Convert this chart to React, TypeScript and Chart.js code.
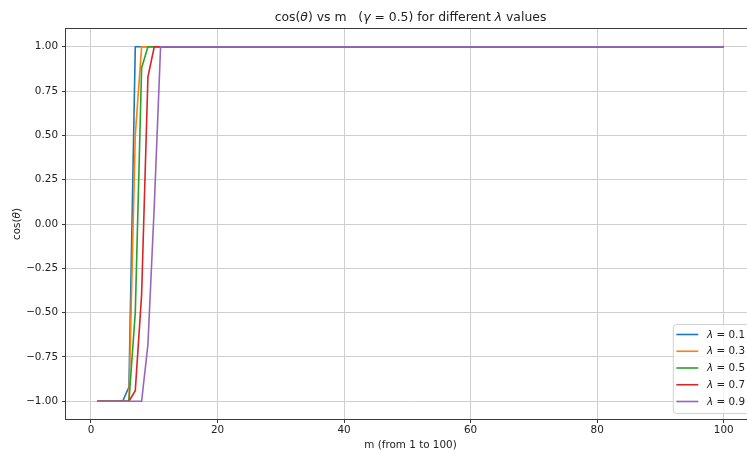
import React, { useEffect, useRef } from 'react';
import { Chart, registerables } from 'chart.js';

Chart.register(...registerables);

// m values (x axis categories)
const M = [
  1, 2, 3, 4, 5, 6, 7, 8, 9, 10,
  11, 12, 13, 14, 15, 16, 17, 18, 19, 20,
  21, 22, 23, 24, 25, 26, 27, 28, 29, 30,
  31, 32, 33, 34, 35, 36, 37, 38, 39, 40,
  41, 42, 43, 44, 45, 46, 47, 48, 49, 50,
  51, 52, 53, 54, 55, 56, 57, 58, 59, 60,
  61, 62, 63, 64, 65, 66, 67, 68, 69, 70,
  71, 72, 73, 74, 75, 76, 77, 78, 79, 80,
  81, 82, 83, 84, 85, 86, 87, 88, 89, 90,
  91, 92, 93, 94, 95, 96, 97, 98, 99, 100,
];

const LAMBDAS = ['0.1', '0.3', '0.5', '0.7', '0.9'];

// cos(theta) for lambda = 0.1
const COS_L01 = [
  -1, -1, -1, -1, -1, -0.92, 1, 1, 1, 1,
  1, 1, 1, 1, 1, 1, 1, 1, 1, 1,
  1, 1, 1, 1, 1, 1, 1, 1, 1, 1,
  1, 1, 1, 1, 1, 1, 1, 1, 1, 1,
  1, 1, 1, 1, 1, 1, 1, 1, 1, 1,
  1, 1, 1, 1, 1, 1, 1, 1, 1, 1,
  1, 1, 1, 1, 1, 1, 1, 1, 1, 1,
  1, 1, 1, 1, 1, 1, 1, 1, 1, 1,
  1, 1, 1, 1, 1, 1, 1, 1, 1, 1,
  1, 1, 1, 1, 1, 1, 1, 1, 1, 1,
];
// lambda = 0.3
const COS_L03 = [
  -1, -1, -1, -1, -1, -1, 0.5, 1, 1, 1,
  1, 1, 1, 1, 1, 1, 1, 1, 1, 1,
  1, 1, 1, 1, 1, 1, 1, 1, 1, 1,
  1, 1, 1, 1, 1, 1, 1, 1, 1, 1,
  1, 1, 1, 1, 1, 1, 1, 1, 1, 1,
  1, 1, 1, 1, 1, 1, 1, 1, 1, 1,
  1, 1, 1, 1, 1, 1, 1, 1, 1, 1,
  1, 1, 1, 1, 1, 1, 1, 1, 1, 1,
  1, 1, 1, 1, 1, 1, 1, 1, 1, 1,
  1, 1, 1, 1, 1, 1, 1, 1, 1, 1,
];
// lambda = 0.5
const COS_L05 = [
  -1, -1, -1, -1, -1, -1, -0.5, 0.88, 1, 1,
  1, 1, 1, 1, 1, 1, 1, 1, 1, 1,
  1, 1, 1, 1, 1, 1, 1, 1, 1, 1,
  1, 1, 1, 1, 1, 1, 1, 1, 1, 1,
  1, 1, 1, 1, 1, 1, 1, 1, 1, 1,
  1, 1, 1, 1, 1, 1, 1, 1, 1, 1,
  1, 1, 1, 1, 1, 1, 1, 1, 1, 1,
  1, 1, 1, 1, 1, 1, 1, 1, 1, 1,
  1, 1, 1, 1, 1, 1, 1, 1, 1, 1,
  1, 1, 1, 1, 1, 1, 1, 1, 1, 1,
];
// lambda = 0.7
const COS_L07 = [
  -1, -1, -1, -1, -1, -1, -0.94, -0.4, 0.83, 1,
  1, 1, 1, 1, 1, 1, 1, 1, 1, 1,
  1, 1, 1, 1, 1, 1, 1, 1, 1, 1,
  1, 1, 1, 1, 1, 1, 1, 1, 1, 1,
  1, 1, 1, 1, 1, 1, 1, 1, 1, 1,
  1, 1, 1, 1, 1, 1, 1, 1, 1, 1,
  1, 1, 1, 1, 1, 1, 1, 1, 1, 1,
  1, 1, 1, 1, 1, 1, 1, 1, 1, 1,
  1, 1, 1, 1, 1, 1, 1, 1, 1, 1,
  1, 1, 1, 1, 1, 1, 1, 1, 1, 1,
];
// lambda = 0.9
const COS_L09 = [
  -1, -1, -1, -1, -1, -1, -1, -1, -0.68, 0.1,
  1, 1, 1, 1, 1, 1, 1, 1, 1, 1,
  1, 1, 1, 1, 1, 1, 1, 1, 1, 1,
  1, 1, 1, 1, 1, 1, 1, 1, 1, 1,
  1, 1, 1, 1, 1, 1, 1, 1, 1, 1,
  1, 1, 1, 1, 1, 1, 1, 1, 1, 1,
  1, 1, 1, 1, 1, 1, 1, 1, 1, 1,
  1, 1, 1, 1, 1, 1, 1, 1, 1, 1,
  1, 1, 1, 1, 1, 1, 1, 1, 1, 1,
  1, 1, 1, 1, 1, 1, 1, 1, 1, 1,
];

const SERIES = [COS_L01, COS_L03, COS_L05, COS_L07, COS_L09];
const COLORS = ['#1f77b4', '#ff7f0e', '#2ca02c', '#d62728', '#9467bd'];

const X_TICKS = [0, 20, 40, 60, 80, 100];
const Y_TICKS = [-1, -0.75, -0.5, -0.25, 0, 0.25, 0.5, 0.75, 1];

type Part = [string, boolean];
const TITLE_PARTS: Part[] = [
  ['cos(', false], ['θ', true], [') vs m   (', false], ['γ', true],
  [' = 0.5) for different ', false], ['λ', true], [' values', false],
];
const X_LABEL = 'm (from 1 to 100)';
const Y_LABEL_PARTS: Part[] = [['cos(', false], ['θ', true], [')', false]];

const FONT = '"DejaVu Sans", sans-serif';
const TEXT = '#222222';
const SMALL = 10.4;
const TITLE_SIZE = 12.4;

function drawParts(ctx: CanvasRenderingContext2D, parts: Part[], x: number, y: number, size: number, center: boolean) {
  const fontOf = (it: boolean) => `${it ? 'italic ' : ''}${size}px ${FONT}`;
  const widths = parts.map(([t, it]) => { ctx.font = fontOf(it); return ctx.measureText(t).width; });
  const total = widths.reduce((s, w) => s + w, 0);
  let cx = center ? x - total / 2 : x;
  ctx.textAlign = 'left';
  parts.forEach(([t, it], i) => { ctx.font = fontOf(it); ctx.fillText(t, cx, y); cx += widths[i]; });
  return total;
}

function measureParts(ctx: CanvasRenderingContext2D, parts: Part[], size: number) {
  let total = 0;
  parts.forEach(([t, it]) => { ctx.font = `${it ? 'italic ' : ''}${size}px ${FONT}`; total += ctx.measureText(t).width; });
  return total;
}

const decor = {
  id: 'decor',
  afterDatasetsDraw(chart: any) {
    const { ctx, chartArea: a } = chart;
    ctx.save();
    // spines
    ctx.strokeStyle = '#3a3a3a';
    ctx.lineWidth = 1;
    ctx.strokeRect(Math.round(a.left) - 0.5, Math.round(a.top) - 0.5,
      Math.round(a.right - a.left) + 1, Math.round(a.bottom - a.top) + 1);

    // legend (lower right)
    const items = chart.data.datasets.map((ds: any, i: number) => ({
      parts: [['λ', true], [' = ' + LAMBDAS[i], false]] as Part[],
      color: ds.borderColor,
    }));
    const maxW = Math.max(...items.map((it: any) => measureParts(ctx, it.parts, SMALL)));
    const padL = 3.5, handle = 22, gap = 8.7, padR = 4;
    const boxRight = a.right - 6;
    const boxBottom = a.bottom - 6;
    const boxW = padL + handle + gap + maxW + padR;
    const boxH = 89;
    const boxLeft = boxRight - boxW;
    const boxTop = boxBottom - boxH;
    ctx.beginPath();
    if ((ctx as any).roundRect) (ctx as any).roundRect(boxLeft + 0.5, boxTop + 0.5, boxW, boxH, 3);
    else ctx.rect(boxLeft + 0.5, boxTop + 0.5, boxW, boxH);
    ctx.fillStyle = 'rgba(255,255,255,0.8)';
    ctx.fill();
    ctx.strokeStyle = 'rgba(204,204,204,0.9)';
    ctx.stroke();
    ctx.textBaseline = 'middle';
    ctx.fillStyle = TEXT;
    items.forEach((it: any, i: number) => {
      const cy = boxTop + 10.5 + i * 16.75;
      ctx.strokeStyle = it.color;
      ctx.lineWidth = 1.6;
      ctx.beginPath();
      ctx.moveTo(boxLeft + padL, cy);
      ctx.lineTo(boxLeft + padL + handle, cy);
      ctx.stroke();
      ctx.fillStyle = TEXT;
      drawParts(ctx, it.parts, boxLeft + padL + handle + gap, cy + 0.5, SMALL, false);
    });
    ctx.restore();
  },
  afterDraw(chart: any) {
    const { ctx, chartArea: a } = chart;
    ctx.save();
    ctx.fillStyle = TEXT;
    ctx.textBaseline = 'alphabetic';
    const cx = (a.left + a.right) / 2;
    drawParts(ctx, TITLE_PARTS, cx, 21, TITLE_SIZE, true);
    ctx.font = `${SMALL}px ${FONT}`;
    ctx.textAlign = 'center';
    ctx.fillText(X_LABEL, cx, 448);
    ctx.translate(20, (a.top + a.bottom) / 2);
    ctx.rotate(-Math.PI / 2);
    drawParts(ctx, Y_LABEL_PARTS, 0, 0, SMALL, true);
    ctx.restore();
  },
};

export default function App() {
  const ref = useRef<HTMLCanvasElement | null>(null);
  useEffect(() => {
    if (!ref.current) return;
    const tickFont = { family: FONT, size: SMALL };
    const chart = new Chart(ref.current, {
      type: 'line',
      data: {
        labels: M,
        datasets: SERIES.map((s, i) => ({
          label: `λ = ${LAMBDAS[i]}`,
          data: s,
          borderColor: COLORS[i],
          backgroundColor: COLORS[i],
          borderWidth: 1.6,
          pointRadius: 0,
          tension: 0,
          fill: false,
          order: SERIES.length - 1 - i,
        })),
      },
      options: {
        responsive: false,
        animation: false,
        devicePixelRatio: 1,
        layout: { padding: { left: 0, top: 29, right: 25, bottom: 0 } },
        plugins: {
          legend: { display: false },
          title: { display: false },
          tooltip: { enabled: false },
        },
        scales: {
          x: {
            type: 'linear',
            min: -3.95,
            max: 104.95,
            bounds: 'data',
            afterBuildTicks: (s: any) => { s.ticks = X_TICKS.map((v) => ({ value: v })); },
            afterFit: (s: any) => { s.height = 34; },
            ticks: {
              autoSkip: false, maxRotation: 0, minRotation: 0, padding: 1,
              color: TEXT, font: tickFont,
              callback: (v: any) => String(v),
            },
            grid: { color: '#cfcfcf', lineWidth: 1, drawTicks: true, tickLength: 4, tickColor: '#3a3a3a', tickWidth: 1 },
            border: { display: false },
          },
          y: {
            type: 'linear',
            min: -1.1,
            max: 1.1,
            bounds: 'data',
            afterBuildTicks: (s: any) => { s.ticks = Y_TICKS.map((v) => ({ value: v })); },
            afterFit: (s: any) => { s.width = 66; },
            ticks: {
              autoSkip: false, padding: 4, color: TEXT, font: tickFont,
              callback: (v: any) => { const n = Number(v); return (n < 0 ? '\u2212' : '') + Math.abs(n).toFixed(2); },
            },
            grid: { color: '#cfcfcf', lineWidth: 1, drawTicks: true, tickLength: 4, tickColor: '#3a3a3a', tickWidth: 1 },
            border: { display: false },
          },
        },
      } as any,
      plugins: [decor],
    });
    return () => chart.destroy();
  }, []);
  return (
    <div style={{ position: 'fixed', left: 0, top: 0, width: 747, height: 453, overflow: 'hidden', background: '#ffffff' }}>
      <canvas ref={ref} width={780} height={453} style={{ display: 'block', width: 780, height: 453 }} />
    </div>
  );
}
